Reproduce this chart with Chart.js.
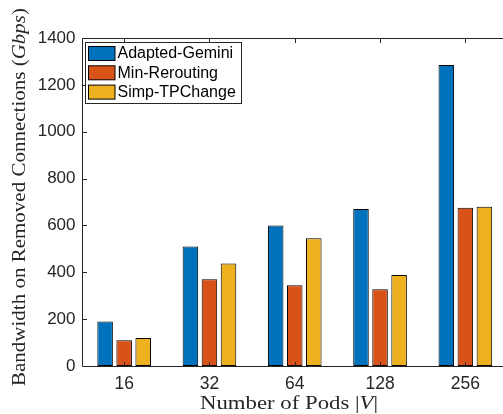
<!DOCTYPE html>
<html>
<head>
<meta charset="utf-8">
<script src="https://cdn.jsdelivr.net/npm/chart.js@4"></script>
<style>
html,body{margin:0;padding:0;background:#fff;overflow:hidden;width:503px;height:414px;}
canvas{display:block;}
</style>
</head>
<body>
<canvas id="c" width="508" height="414" style="width:508px;height:414px"></canvas>
<script>
const categories = ['16', '32', '64', '128', '256'];
const adaptedGemini = [190, 510, 600, 670, 1285];
const minRerouting = [110, 370, 345, 328, 675];
const simpTPChange = [120, 437, 545, 388, 680];
const seriesNames = ['Adapted-Gemini', 'Min-Rerouting', 'Simp-TPChange'];
const seriesColors = ['#0072BD', '#D95319', '#EDB120'];
const yTicks = [0, 200, 400, 600, 800, 1000, 1200, 1400];

const AXIS = '#262626';
const SERIF = '"Liberation Serif", "DejaVu Serif", serif';
const SANS = '"Liberation Sans", Arial, sans-serif';

function drawMixedFit(ctx, segs, size, target, x, y) {
  let total = 0;
  const widths = [];
  segs.forEach(s => {
    ctx.font = (s.it ? 'italic ' : '') + size + 'px ' + SERIF;
    const w = ctx.measureText(s.t).width;
    widths.push(w); total += w;
  });
  const sx = target / total;
  ctx.save();
  ctx.translate(x - target / 2, y);
  ctx.scale(sx, 1);
  let cx = 0;
  segs.forEach((s, i) => {
    ctx.font = (s.it ? 'italic ' : '') + size + 'px ' + SERIF;
    ctx.fillText(s.t, cx, 0);
    cx += widths[i];
  });
  ctx.restore();
}

const framePlugin = {
  id: 'frame',
  afterDraw(chart) {
    const ctx = chart.ctx;
    const a = chart.chartArea;
    const xs = chart.scales.x, ys = chart.scales.y;
    const L = Math.round(a.left) + 0.5, R = Math.round(a.right) - 0.5;
    const T = Math.round(a.top) + 0.5, B = Math.round(a.bottom) + 0.5;
    ctx.save();
    ctx.strokeStyle = AXIS;
    ctx.lineWidth = 1;
    ctx.beginPath();
    ctx.rect(L, T, R - L, B - T);
    const tl = 4.5;
    yTicks.forEach(v => {
      const py = Math.round(ys.getPixelForValue(v)) + 0.5;
      ctx.moveTo(L, py); ctx.lineTo(L + tl, py);
      ctx.moveTo(R, py); ctx.lineTo(R - tl, py);
    });
    categories.forEach((c, i) => {
      const px = Math.round(xs.getPixelForValue(i)) + 0.5;
      ctx.moveTo(px, B); ctx.lineTo(px, B - tl);
      ctx.moveTo(px, T); ctx.lineTo(px, T + tl);
    });
    ctx.stroke();

    // legend
    const lx = 85.5, ly = 42.5, lw = 156, lh = 61;
    ctx.fillStyle = '#fff';
    ctx.fillRect(lx, ly, lw, lh);
    ctx.strokeStyle = AXIS;
    ctx.strokeRect(lx, ly, lw, lh);
    ctx.font = '16px ' + SANS;
    ctx.textBaseline = 'middle';
    ctx.textAlign = 'left';
    chart.data.datasets.forEach((ds, i) => {
      const by = 46.5 + i * 19.3;
      ctx.fillStyle = ds.backgroundColor;
      ctx.fillRect(88.5, by, 26.5, 14);
      ctx.strokeStyle = '#000';
      ctx.strokeRect(88.5, by, 26.5, 14);
      ctx.fillStyle = '#000';
      ctx.fillText(ds.label, 117.5, by + 7.5);
    });

    // axis titles
    ctx.fillStyle = AXIS;
    ctx.textBaseline = 'alphabetic';
    ctx.textAlign = 'left';
    drawMixedFit(ctx, [{t: 'Number of Pods '}, {t: '|'}, {t: 'V', it: true}, {t: '|'}], 19.5, 178, 289, 408.5);
    ctx.save();
    ctx.translate(25, 197);
    ctx.rotate(-Math.PI / 2);
    drawMixedFit(ctx, [{t: 'Bandwidth on Removed Connections '}, {t: '('}, {t: 'Gbps', it: true}, {t: ')'}], 19.5, 378, 0, 0);
    ctx.restore();
    ctx.restore();
  }
};

new Chart(document.getElementById('c'), {
  type: 'bar',
  data: {
    labels: categories,
    datasets: [
      {label: seriesNames[0], data: adaptedGemini, backgroundColor: seriesColors[0]},
      {label: seriesNames[1], data: minRerouting, backgroundColor: seriesColors[1]},
      {label: seriesNames[2], data: simpTPChange, backgroundColor: seriesColors[2]}
    ].map(d => Object.assign(d, {borderColor: '#000', borderWidth: 1, borderSkipped: false,
      categoryPercentage: 0.67, barPercentage: 0.816}))
  },
  options: {
    responsive: false,
    animation: false,
    devicePixelRatio: 1,
    layout: {padding: {top: 38, right: 0, left: 0, bottom: 0}},
    plugins: {legend: {display: false}, tooltip: {enabled: false}},
    scales: {
      x: {
        offset: true,
        grid: {display: false, drawTicks: false},
        border: {display: false},
        ticks: {color: AXIS, font: {family: SANS, size: 17.5}, padding: 8, maxRotation: 0},
        afterFit: s => { s.height = 48; }
      },
      y: {
        min: 0, max: 1400,
        grid: {display: false, drawTicks: false},
        border: {display: false},
        ticks: {stepSize: 200, color: AXIS, font: {family: SANS, size: 17}, padding: 6,
          callback: v => String(v)},
        afterFit: s => { s.width = 81.5; }
      }
    }
  },
  plugins: [framePlugin]
});
</script>
</body>
</html>
